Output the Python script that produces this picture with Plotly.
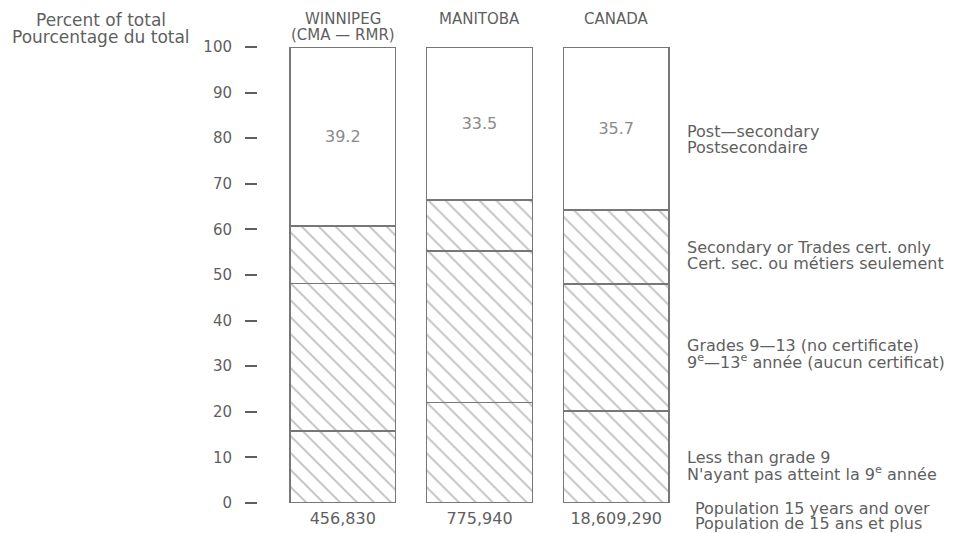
import plotly.graph_objects as go

places = ['WINNIPEG', 'MANITOBA', 'CANADA']
place_sub = ['(CMA — RMR)', '', '']
population = ['456,830', '775,940', '18,609,290']

less_than_9 = [15.8, 22.0, 20.2]
grades_9_13 = [32.3, 33.3, 27.8]
secondary = [12.7, 11.2, 16.3]
post_secondary = [39.2, 33.5, 35.7]

levels = [('Less than grade 9', 'N\'ayant pas atteint la 9<sup>e</sup> année'),
          ('Grades 9—13 (no certificate)', '9<sup>e</sup>—13<sup>e</sup> année (aucun certificat)'),
          ('Secondary or Trades cert. only', 'Cert. sec. ou métiers seulement'),
          ('Post—secondary', 'Postsecondaire')]
level_pos = [8.3, 32.7, 54.3, 79.7]

GREY = '#5f5f5f'
LINE = '#777777'
FONT = 'DejaVu Sans'

x = list(range(len(places)))
fig = go.Figure()
for vals, hatched in [(less_than_9, True), (grades_9_13, True), (secondary, True), (post_secondary, False)]:
    fig.add_trace(go.Bar(
        x=x, y=vals, width=0.774,
        marker=dict(color='white', line=dict(color=LINE, width=1.5),
                    pattern=dict(shape='\\' if hatched else '', fgcolor='#7a7a7a', bgcolor='white',
                                 size=12, solidity=0.14)),
        text=None if hatched else [f"{v:.1f}" for v in vals],
        textposition='inside' if not hatched else 'none',
        insidetextanchor='middle',
        textfont=dict(family=FONT, size=16, color='#8a8a8a'),
        hoverinfo='skip', showlegend=False))

# page has an 8px body margin, so the figure is drawn 8px right and down
for i, (name, sub) in enumerate(zip(places, place_sub)):
    fig.add_annotation(x=i, xref='x', y=1.062, yref='paper', yanchor='middle', text=name,
                       showarrow=False, font=dict(family=FONT, size=15, color=GREY))
    if sub:
        fig.add_annotation(x=i, xref='x', y=1.026, yref='paper', yanchor='middle', text=sub,
                           showarrow=False, font=dict(family=FONT, size=15, color=GREY))

# two lines per label, placed one by one for tighter spacing
for (en, fr), yp in zip(levels, level_pos):
    for txt, dy in [(en, 1.75), (fr, -1.75)]:
        fig.add_annotation(x=1.024, xref='paper', xanchor='left', y=yp + dy, yref='y', yanchor='middle',
                           text=txt, showarrow=False, font=dict(family=FONT, size=16, color=GREY))

for txt, yp in [('Population 15 years and over', -0.011), ('Population de 15 ans et plus', -0.046)]:
    fig.add_annotation(x=1.043, xref='paper', xanchor='left', y=yp, yref='paper', yanchor='middle',
                       text=txt, showarrow=False, font=dict(family=FONT, size=16, color=GREY))

for txt, yp in [('Percent of total', 1.059), ('Pourcentage du total', 1.022)]:
    fig.add_annotation(x=-0.3765, xref='paper', xanchor='center', y=yp, yref='paper', yanchor='middle',
                       text=txt, showarrow=False, font=dict(family=FONT, size=17, color=GREY))

fig.update_layout(
    barmode='stack', width=967, height=533,
    margin=dict(l=250, r=300, t=39, b=38),
    plot_bgcolor='white', paper_bgcolor='white',
    xaxis=dict(range=[-0.62, 2.43], tickvals=x, ticktext=population, showgrid=False, automargin=False,
               zeroline=False, showline=False, ticks='', fixedrange=True, ticklabelstandoff=4,
               tickfont=dict(family=FONT, size=16, color=GREY)),
    yaxis=dict(range=[0, 100], tickvals=list(range(0, 101, 10)), showgrid=False, zeroline=False,
               showline=False, ticks='outside', ticklen=12, tickwidth=1.5, tickcolor=GREY, automargin=False,
               ticklabelstandoff=10, tickfont=dict(family=FONT, size=15, color=GREY)),
)

fig.write_html("out.html")
